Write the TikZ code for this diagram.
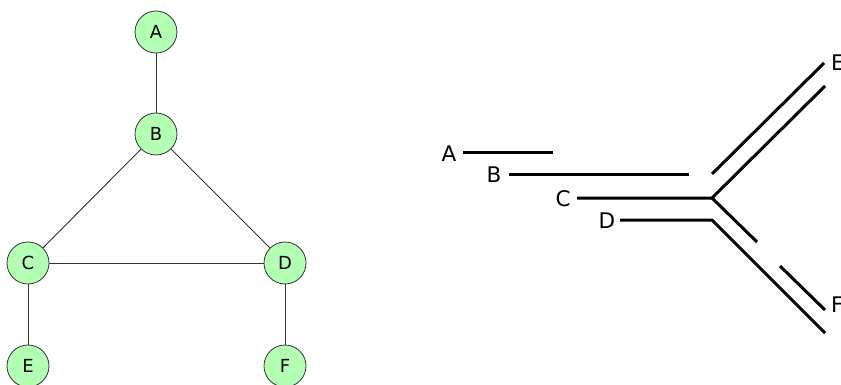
\documentclass[tikz,border=0pt]{standalone}
\usepackage{fontspec}
\setmainfont{DejaVu Sans}
\begin{document}
\begin{tikzpicture}[x=1pt,y=-1pt,
  gnode/.style={circle,draw=black!80,fill=gfill,line width=0.8pt,minimum size=42pt,inner sep=0pt,font=\fontsize{18}{18}\selectfont},
  gedge/.style={draw=black!80,line width=0.9pt},
  track/.style={line width=3pt,line cap=butt,line join=miter},
  lab/.style={inner sep=0pt,font=\fontsize{21.5}{21.5}\selectfont}]
\definecolor{gfill}{HTML}{B3FFB3}
\useasboundingbox (0,0) rectangle (841,385);
% left graph
\node[gnode] (A) at (156,32) {A};
\node[gnode] (B) at (156,134) {B};
\node[gnode] (C) at (28,263) {C};
\node[gnode] (D) at (285,263) {D};
\node[gnode] (E) at (28,366) {E};
\node[gnode] (F) at (285,366) {F};
\draw[gedge] (A) -- (B);
\draw[gedge] (B) -- (C);
\draw[gedge] (B) -- (D);
\draw[gedge] (C) -- (D);
\draw[gedge] (C) -- (E);
\draw[gedge] (D) -- (F);
% right diagram
\node[lab] (la) at (449,154) {A};
\node[lab] (lb) at (494,175) {B};
\node[lab] (lc) at (563,199) {C};
\node[lab] (ld) at (607,221) {D};
\node[lab,anchor=west] (le) at (831,63) {E};
\node[lab,anchor=west] (lf) at (831,305) {F};
\coordinate (a1) at (463,153);
\coordinate (a2) at (553,153);
\coordinate (b1) at (509,175);
\coordinate (b2) at (689,175);
\coordinate (b3) at (712,174);
\coordinate (b4) at (824,63);
\coordinate (c1) at (577,198);
\coordinate (c2) at (712,198);
\coordinate (c3) at (825,86);
\coordinate (c4) at (757,242);
\coordinate (c5) at (780,266);
\coordinate (c6) at (825,310);
\coordinate (d1) at (620,220);
\coordinate (d2) at (712,220);
\coordinate (d3) at (825,333);
\draw[track] (a1) -- (a2);
\draw[track] (b1) -- (b2);
\draw[track] (b3) -- (b4);
\draw[track] (c1) -- (c2) -- (c3);
\draw[track] (c2) -- (c4);
\draw[track] (c5) -- (c6);
\draw[track] (d1) -- (d2) -- (d3);
\end{tikzpicture}
\end{document}
